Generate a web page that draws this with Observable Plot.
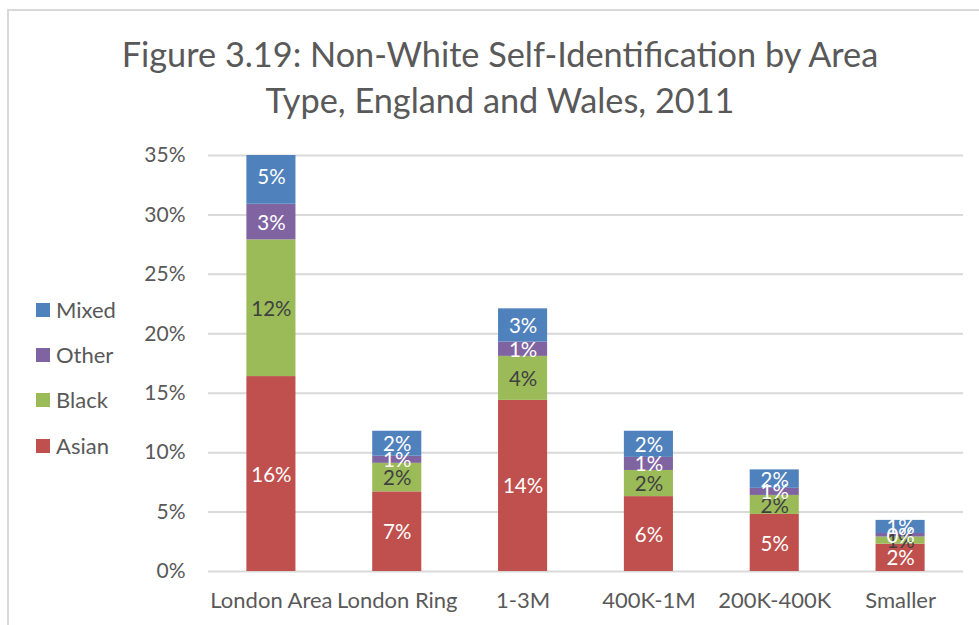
<!DOCTYPE html>
<html>
<head>
<meta charset="utf-8">
<script src="https://cdn.jsdelivr.net/npm/d3@7"></script>
<script src="https://cdn.jsdelivr.net/npm/@observablehq/plot@0.6"></script>
<style>
  html, body { margin: 0; padding: 0; background: #fff; }
  #page { position: relative; width: 979px; height: 625px; overflow: hidden; font-family: Lato, "Open Sans", sans-serif; color: #595959; }
  #frame { position: absolute; left: 7px; top: 9px; width: 1000px; height: 700px; border: 2px solid #d9d9d9; box-sizing: border-box; }
  #title { position: absolute; left: 20px; width: 960px; top: 31px; text-align: center; font-size: 34.3px; line-height: 46px; color: #595959; }
  #chart { position: absolute; left: 0; top: 130px; }
  #legend { position: absolute; left: 36px; top: 0; }
  .item { position: absolute; left: 0; white-space: nowrap; font-size: 22px; line-height: 22px; padding-left: 20px; }
  .sw { position: absolute; left: 0; top: 4px; width: 14px; height: 14px; }
</style>
</head>
<body>
<div id="page">
  <div id="frame"></div>
  <div id="title">Figure 3.19: Non-White Self-Identification by Area<br>Type, England and Wales, 2011</div>
  <div id="chart"></div>
  <div id="legend"></div>
</div>
<script>
const categories = ["London Area", "London Ring", "1-3M", "400K-1M", "200K-400K", "Smaller"];
const seriesNames = ["Asian", "Black", "Other", "Mixed"];
const seriesColors = ["#C0504D", "#9BBB59", "#8064A2", "#4F81BD"];
const labelColors = ["#ffffff", "#404040", "#ffffff", "#ffffff"];
const asian = [16.4, 6.7, 14.4, 6.3, 4.8, 2.3];
const black = [11.5, 2.4, 3.7, 2.2, 1.6, 0.6];
const other = [3.0, 0.6, 1.2, 1.1, 0.6, 0.3];
const mixed = [4.6, 2.1, 2.8, 2.2, 1.55, 1.1];
const yTicks = [0, 5, 10, 15, 20, 25, 30, 35];

const seriesValues = [asian, black, other, mixed];
const data = [];
seriesNames.forEach((s, si) => {
  categories.forEach((c, ci) => {
    data.push({category: c, series: s, value: seriesValues[si][ci], label: labelColors[si]});
  });
});

const stackOpts = {x: "category", y: "value", z: "series", order: seriesNames};

const chart = Plot.plot({
  width: 979,
  height: 495,
  marginLeft: 208,
  marginRight: 16,
  marginTop: 25,
  marginBottom: 54,
  style: {fontFamily: "Lato, 'Open Sans', sans-serif", fontSize: "20px", color: "#595959", background: "transparent"},
  x: {domain: categories, paddingInner: 0.61, paddingOuter: 0.305, round: false, label: null},
  y: {domain: [0, 35], label: null},
  color: {domain: seriesNames, range: seriesColors},
  marks: [
    Plot.gridY(yTicks, {stroke: "#d9d9d9", strokeOpacity: 1, strokeWidth: 2}),
    Plot.barY(data, Plot.stackY({...stackOpts, fill: "series", clip: true})),
    Plot.text(data, Plot.stackY({...stackOpts, text: d => Math.round(d.value) + "%", fill: "label", fontSize: 20.5, dy: 1})),
    Plot.axisY(yTicks, {tickSize: 0, tickPadding: 23, tickFormat: d => d + "%", fontSize: 21, fill: "#595959", label: null}),
    Plot.axisX({tickSize: 0, tickPadding: 21, fontSize: 22, fill: "#595959", label: null})
  ]
});
document.getElementById("chart").appendChild(chart);

// legend (top-to-bottom: Mixed, Other, Black, Asian)
const legend = document.getElementById("legend");
const legendOrder = [3, 2, 1, 0];
const legendTops = [299, 344, 389, 435];
legendOrder.forEach((si, i) => {
  const div = document.createElement("div");
  div.className = "item";
  div.style.top = legendTops[i] + "px";
  div.innerHTML = `<span class="sw" style="background:${seriesColors[si]}"></span>${seriesNames[si]}`;
  legend.appendChild(div);
});
</script>
</body>
</html>
